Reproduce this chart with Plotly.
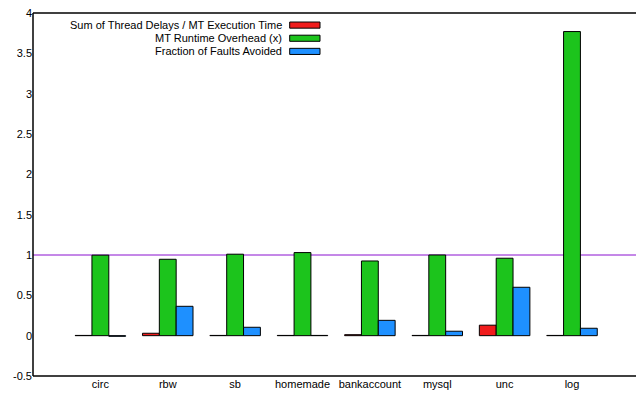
import plotly.graph_objects as go

categories = ["circ", "rbw", "sb", "homemade", "bankaccount", "mysql", "unc", "log"]
thread_delays = [0.003, 0.03, 0.003, 0.003, 0.012, 0.003, 0.13, 0.003]
runtime_overhead = [0.998, 0.947, 1.01, 1.03, 0.926, 1.0, 0.96, 3.77]
faults_avoided = [-0.008, 0.364, 0.104, 0.003, 0.19, 0.055, 0.6, 0.092]
series_names = ["Sum of Thread Delays / MT Execution Time", "MT Runtime Overhead (x)", "Fraction of Faults Avoided"]
series_colors = ["#f01c1c", "#1cc41c", "#1e90ff"]
y_ticks = [-0.5, 0, 0.5, 1, 1.5, 2, 2.5, 3, 3.5, 4]
y_tick_labels = ["-0.5", "0", "0.5", "1", "1.5", "2", "2.5", "3", "3.5", "4"]
reference_level = 1

FONT = "Liberation Sans, Arial, sans-serif"
fig = go.Figure()
xs = list(range(len(categories)))
for name, vals, col in zip(series_names, [thread_delays, runtime_overhead, faults_avoided], series_colors):
    fig.add_trace(go.Bar(x=xs, y=vals, name=name, marker=dict(color=col, line=dict(color="black", width=1)),
                         showlegend=False))

# reference line
fig.add_shape(type="line", xref="paper", x0=0, x1=1, yref="y", y0=reference_level, y1=reference_level,
              line=dict(color="#8a10d0", width=1), layer="below")
# frame: top, bottom, left
frame = dict(color="black", width=1.5)
fig.add_shape(type="line", xref="paper", x0=0, x1=1, yref="paper", y0=1, y1=1, line=frame)
fig.add_shape(type="line", xref="paper", x0=0, x1=1, yref="paper", y0=0, y1=0, line=frame)
fig.add_shape(type="line", xref="paper", x0=0, x1=0, yref="paper", y0=0, y1=1, line=frame)

# legend drawn manually (text left of swatch, gnuplot style)
for i, (name, col) in enumerate(zip(series_names, series_colors)):
    yy = 3.85 - i * 0.163
    fig.add_annotation(x=2.72, y=yy, xref="x", yref="y", text=name, showarrow=False,
                       xanchor="right", yanchor="middle", font=dict(family=FONT, size=11, color="black"))
    fig.add_shape(type="rect", xref="x", yref="y", x0=2.81, x1=3.26, y0=yy - 0.038, y1=yy + 0.038,
                  fillcolor=col, line=dict(color="black", width=1))

fig.update_layout(
    width=636, height=397,
    margin=dict(l=33, r=0, t=13, b=21),
    paper_bgcolor="white", plot_bgcolor="white",
    barmode="group", bargap=0.25, bargroupgap=0,
    font=dict(family=FONT, size=11, color="black"),
    xaxis=dict(range=[-1, 7.95], tickvals=xs, ticktext=categories, showline=False,
               showgrid=False, zeroline=False, ticks="", ticklen=0),
    yaxis=dict(range=[-0.5, 4], tickvals=y_ticks, ticktext=y_tick_labels, showline=False,
               showgrid=False, zeroline=False, ticks=""),
)
fig.write_html("out.html", config={"displayModeBar": False, "staticPlot": True},
               post_script="document.body.style.margin='0';document.body.style.overflow='hidden';")
